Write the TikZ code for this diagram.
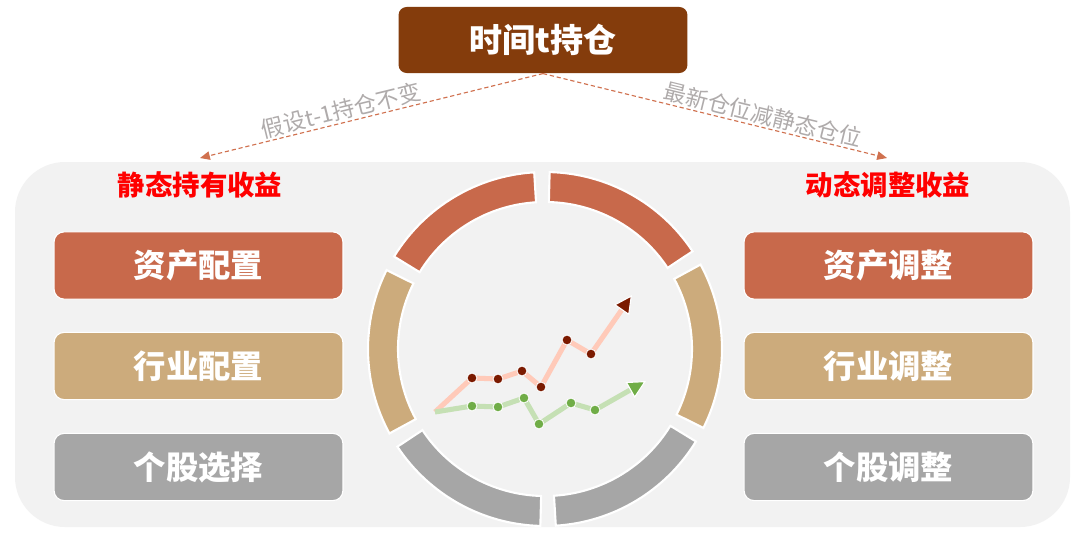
\documentclass[tikz,border=0pt]{standalone}
\usepackage{fontspec}
\setmainfont{Noto Sans CJK SC}
\usepackage{tikz}
\usetikzlibrary{arrows.meta,positioning}
\definecolor{hold}{HTML}{843C0C}
\definecolor{asset}{HTML}{C8694B}
\definecolor{indus}{HTML}{CCAB7C}
\definecolor{stock}{HTML}{A6A6A6}
\definecolor{panel}{HTML}{F2F2F2}
\definecolor{link}{HTML}{D0714F}
\definecolor{notegray}{HTML}{AFABAB}
\definecolor{upline}{HTML}{FFCAB9}
\definecolor{updot}{HTML}{7B1A00}
\definecolor{lowline}{HTML}{C5E0B4}
\definecolor{lowdot}{HTML}{70AD47}

\begin{document}
\begin{tikzpicture}[x=0.025cm,y=0.025cm,
    box/.style={rounded corners=0.25cm,draw=white,line width=0.8pt,minimum width=7.22cm,minimum height=1.68cm,text=white,font=\bfseries\fontsize{23}{27}\selectfont},
    head/.style={text=red,font=\bfseries\fontsize{19.5}{23}\selectfont},
    note/.style={text=notegray,font=\fontsize{16}{19}\selectfont},
    link/.style={draw=link,densely dashed,line width=0.8pt,-{Triangle[length=7pt,width=6pt,fill=link]}},
    seg/.style={draw=white,line width=1.5pt},
    dot/.style={circle,draw=white,line width=0.6pt,inner sep=0pt,minimum size=7pt}]
    \useasboundingbox[fill=white] (0,0) rectangle (1080,-533);
    \fill[panel,rounded corners=1.25cm] (15,-162) rectangle (1070,-527);

    \path
    (543,-40) node[box,fill=hold,draw=none,rounded corners=0.2cm,minimum height=1.65cm,font=\bfseries\fontsize{23.5}{28}\selectfont] (top) {时间t持仓}
    (200,-158) coordinate (lend)
    (887,-158) coordinate (rend)
    (200,-185) node[head] (static) {静态持有收益}
    (888,-185) node[head] (dynamic) {动态调整收益}
    ;

    \draw[link] (top.south) -- node[note,sloped,above,pos=0.58,inner sep=1pt] (lnote) {假设t-1持仓不变} (lend);
    \draw[link] (top.south) -- node[note,sloped,above,pos=0.63,inner sep=1pt] (rnote) {最新仓位减静态仓位} (rend);

    \path
    (198.5,-265.5) node[box,fill=asset] (sa) {资产配置}
    (198.5,-366) node[box,fill=indus] (si) {行业配置}
    (198.5,-467) node[box,fill=stock] (ss) {个股选择}
    (888.5,-265.5) node[box,fill=asset] (da) {资产调整}
    (888.5,-366) node[box,fill=indus] (di) {行业调整}
    (888.5,-467) node[box,fill=stock] (ds) {个股调整}
    ;

    \begin{scope}[shift={(545,-349)}]
    \filldraw[seg,fill=asset] (33.5:177) arc[start angle=33.5,end angle=88.5,radius=177] -- (88.5:147) arc[start angle=88.5,end angle=33.5,radius=147] -- cycle;
    \filldraw[seg,fill=asset] (93.5:177) arc[start angle=93.5,end angle=148.5,radius=177] -- (148.5:147) arc[start angle=148.5,end angle=93.5,radius=147] -- cycle;
    \filldraw[seg,fill=indus] (153.5:177) arc[start angle=153.5,end angle=208.5,radius=177] -- (208.5:147) arc[start angle=208.5,end angle=153.5,radius=147] -- cycle;
    \filldraw[seg,fill=stock] (213.5:177) arc[start angle=213.5,end angle=268.5,radius=177] -- (268.5:147) arc[start angle=268.5,end angle=213.5,radius=147] -- cycle;
    \filldraw[seg,fill=stock] (273.5:177) arc[start angle=273.5,end angle=328.5,radius=177] -- (328.5:147) arc[start angle=328.5,end angle=273.5,radius=147] -- cycle;
    \filldraw[seg,fill=indus] (333.5:177) arc[start angle=333.5,end angle=388.5,radius=177] -- (388.5:147) arc[start angle=388.5,end angle=333.5,radius=147] -- cycle;
    \end{scope}

    \path
    (435,-412) coordinate (u0)
    (472,-378) coordinate (u1)
    (498,-379) coordinate (u2)
    (522,-371) coordinate (u3)
    (541,-387) coordinate (u4)
    (567,-340) coordinate (u5)
    (591,-354) coordinate (u6)
    (632,-295) coordinate (u7)
    (472,-406) coordinate (g1)
    (498,-407) coordinate (g2)
    (524,-398) coordinate (g3)
    (539,-424) coordinate (g4)
    (571,-403) coordinate (g5)
    (595,-410) coordinate (g6)
    (646,-381) coordinate (g7)
    ;

    \draw[upline,line width=3.6pt,-{Triangle[length=13pt,width=13pt,fill=updot,color=white,line width=0.8pt]}]
    (u0) -- (u1) -- (u2) -- (u3) -- (u4) -- (u5) -- (u6) -- (u7);
    \draw[lowline,line width=3.6pt,-{Triangle[length=13pt,width=13pt,fill=lowdot,color=white,line width=0.8pt]}]
    (u0) -- (g1) -- (g2) -- (g3) -- (g4) -- (g5) -- (g6) -- (g7);

    \path
    (u1) node[dot,fill=updot] (du1) {}
    (u2) node[dot,fill=updot] (du2) {}
    (u3) node[dot,fill=updot] (du3) {}
    (u4) node[dot,fill=updot] (du4) {}
    (u5) node[dot,fill=updot] (du5) {}
    (u6) node[dot,fill=updot] (du6) {}
    (g1) node[dot,fill=lowdot] (dg1) {}
    (g2) node[dot,fill=lowdot] (dg2) {}
    (g3) node[dot,fill=lowdot] (dg3) {}
    (g4) node[dot,fill=lowdot] (dg4) {}
    (g5) node[dot,fill=lowdot] (dg5) {}
    (g6) node[dot,fill=lowdot] (dg6) {}
    ;
\end{tikzpicture}
\end{document}
